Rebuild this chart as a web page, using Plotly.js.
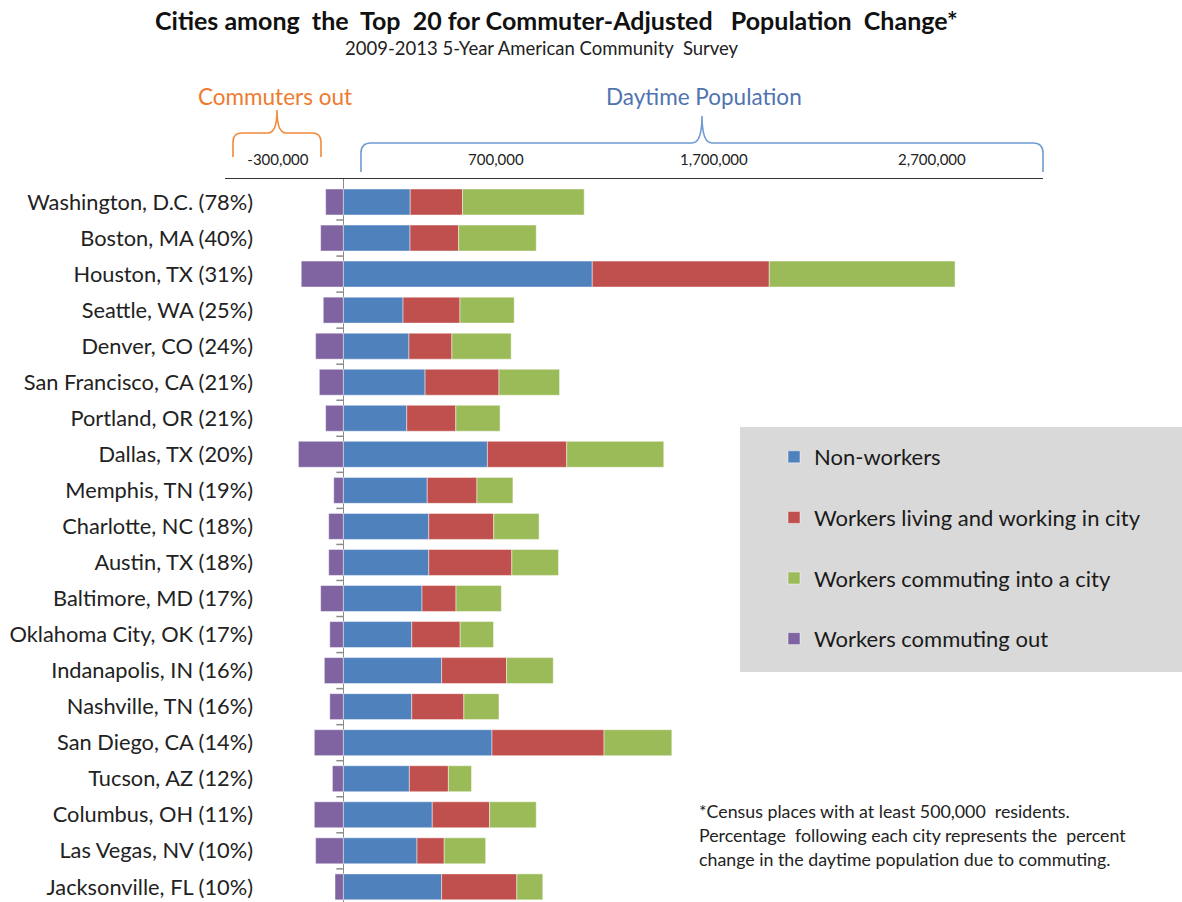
<!DOCTYPE html>
<html>
<head>
<meta charset="utf-8">
<script src="https://cdn.plot.ly/plotly-3.0.1.min.js"></script>
<style>html,body{margin:0;padding:0;background:#fff;}#chart{width:1182px;height:902px;}</style>
</head>
<body>
<div id="chart"></div>
<script>
const cities = ["Washington, D.C. (78%)","Boston, MA (40%)","Houston, TX (31%)","Seattle, WA (25%)","Denver, CO (24%)","San Francisco, CA (21%)","Portland, OR (21%)","Dallas, TX (20%)","Memphis, TN (19%)","Charlotte, NC (18%)","Austin, TX (18%)","Baltimore, MD (17%)","Oklahoma City, OK (17%)","Indanapolis, IN (16%)","Nashville, TN (16%)","San Diego, CA (14%)","Tucson, AZ (12%)","Columbus, OH (11%)","Las Vegas, NV (10%)","Jacksonville, FL (10%)"];
const nonWorkers = [307000,306000,1142000,274000,301000,375000,291000,661000,385000,392000,392000,361000,314000,451000,314000,682000,303000,408000,338000,451000];
const livingWorking = [240000,223000,812000,261000,197000,339000,225000,364000,228000,298000,381000,156000,222000,298000,239000,514000,179000,263000,125000,345000];
const commutingIn = [558000,356000,852000,249000,272000,278000,203000,445000,165000,208000,214000,208000,153000,214000,161000,311000,106000,214000,190000,119000];
const commutingOut = [-81000,-104000,-193000,-92000,-127000,-110000,-81000,-206000,-44000,-67000,-67000,-104000,-62000,-87000,-62000,-133000,-50000,-133000,-127000,-38000];
const seriesNames = ["Non-workers","Workers living and working in city","Workers commuting into a city","Workers commuting out"];
const tickVals = [-300000,700000,1700000,2700000];
const tickText = ["-300,000","700,000","1,700,000","2,700,000"];

const W = 1182, H = 902;
const M = {l:225, r:139, t:179, b:0};
const PW = W - M.l - M.r, PH = H - M.t - M.b;
const px = x => (x - M.l) / PW;
const py = y => (H - M.b - y) / PH;

const FONT = "Lato, 'Open Sans', sans-serif";
const colors = ["#4F81BD","#C0504D","#9BBB59","#8064A2"];
const vals = [nonWorkers, livingWorking, commutingIn, commutingOut];

const traces = vals.map((v,i)=>({
  type:'bar', orientation:'h', y:cities, x:v, name:seriesNames[i],
  marker:{color:colors[i], line:{color:'rgba(255,255,255,0.45)', width:1}},
  legendgroup:'g'+i, legendrank:i+1, hoverinfo:'x+name'
}));

function brace(x0, x1, xm, yb, yh, ytop, r){
  const P = (x,y)=> px(x).toFixed(5)+','+py(y).toFixed(5);
  return 'M'+P(x0,yb)+' L'+P(x0,yh+r)+' Q'+P(x0,yh)+' '+P(x0+r,yh)+
         ' L'+P(xm-r,yh)+' Q'+P(xm,yh)+' '+P(xm,ytop)+
         ' Q'+P(xm,yh)+' '+P(xm+r,yh)+
         ' L'+P(x1-r,yh)+' Q'+P(x1,yh)+' '+P(x1,yh+r)+' L'+P(x1,yb);
}

const shapes = [];
shapes.push({type:'rect', xref:'paper', yref:'paper', x0:px(740), x1:px(1182), y0:py(672), y1:py(427), fillcolor:'#D9D9D9', line:{width:0}, layer:'below'});
shapes.push({type:'path', xref:'paper', yref:'paper', path:brace(233,321,277,157,133,110,9), line:{color:'#F08A3C', width:1.6}});
shapes.push({type:'path', xref:'paper', yref:'paper', path:brace(361,1043,702,172,143,116,10), line:{color:'#6F9AD2', width:1.6}});
for(let i=0;i<cities.length-1;i++){
  shapes.push({type:'line', xref:'x', yref:'y', x0:-32000, x1:0, y0:i+0.5, y1:i+0.5, line:{color:'#8c8c8c', width:1.5}});
}

function ann(text, x, y, size, color, xanchor){
  return {text:text, xref:'paper', yref:'paper', x:px(x), y:py(y), xanchor:xanchor||'center', yanchor:'middle',
    showarrow:false, font:{family:FONT, size:size, color:color}};
}
const annotations = [
  ann('<b>Cities among  the  Top  20 for Commuter-Adjusted   Population  Change*</b>', 556, 20, 25, '#111'),
  ann('2009-2013 5-Year American Community  Survey', 542, 48, 18.5, '#222'),
  ann('Commuters out', 275, 97, 22.5, '#EE7B30'),
  ann('Daytime Population', 704, 97, 22.5, '#4F74B0'),
  ann('*Census places with at least 500,000  residents.', 697, 811, 17.8, '#222', 'left'),
  ann('Percentage  following each city represents the  percent', 697, 835, 17.8, '#222', 'left'),
  ann('change in the daytime population due to commuting.', 697, 859, 17.8, '#222', 'left')
];

const layout = {
  width:W, height:H, margin:M, paper_bgcolor:'#fff', plot_bgcolor:'rgba(0,0,0,0)',
  barmode:'relative', bargap:0.28, showlegend:true,
  font:{family:FONT, color:'#222'},
  xaxis:{side:'top', range:[-542700, 3209600], tickvals:tickVals, ticktext:tickText,
    showgrid:false, showline:true, linecolor:'#333', linewidth:1.5,
    ticks:'outside', ticklen:7, tickcolor:'rgba(0,0,0,0)',
    tickfont:{family:FONT, size:15, color:'#222'},
    zeroline:true, zerolinecolor:'#8c8c8c', zerolinewidth:1.5, layer:'above traces', fixedrange:true},
  yaxis:{type:'category', range:[19.42, -0.638], showgrid:false, showline:false, zeroline:false,
    ticks:'', anchor:'free', position:px(253), tickfont:{family:FONT, size:21.8, color:'#222'}, fixedrange:true},
  legend:{x:px(774), y:py(436), xanchor:'left', yanchor:'top', bgcolor:'rgba(0,0,0,0)',
    font:{family:FONT, size:22, color:'#1a1a1a'}, tracegroupgap:29, traceorder:'grouped'},
  shapes:shapes, annotations:annotations
};

Plotly.newPlot('chart', traces, layout, {displayModeBar:false, staticPlot:true});
</script>
</body>
</html>
